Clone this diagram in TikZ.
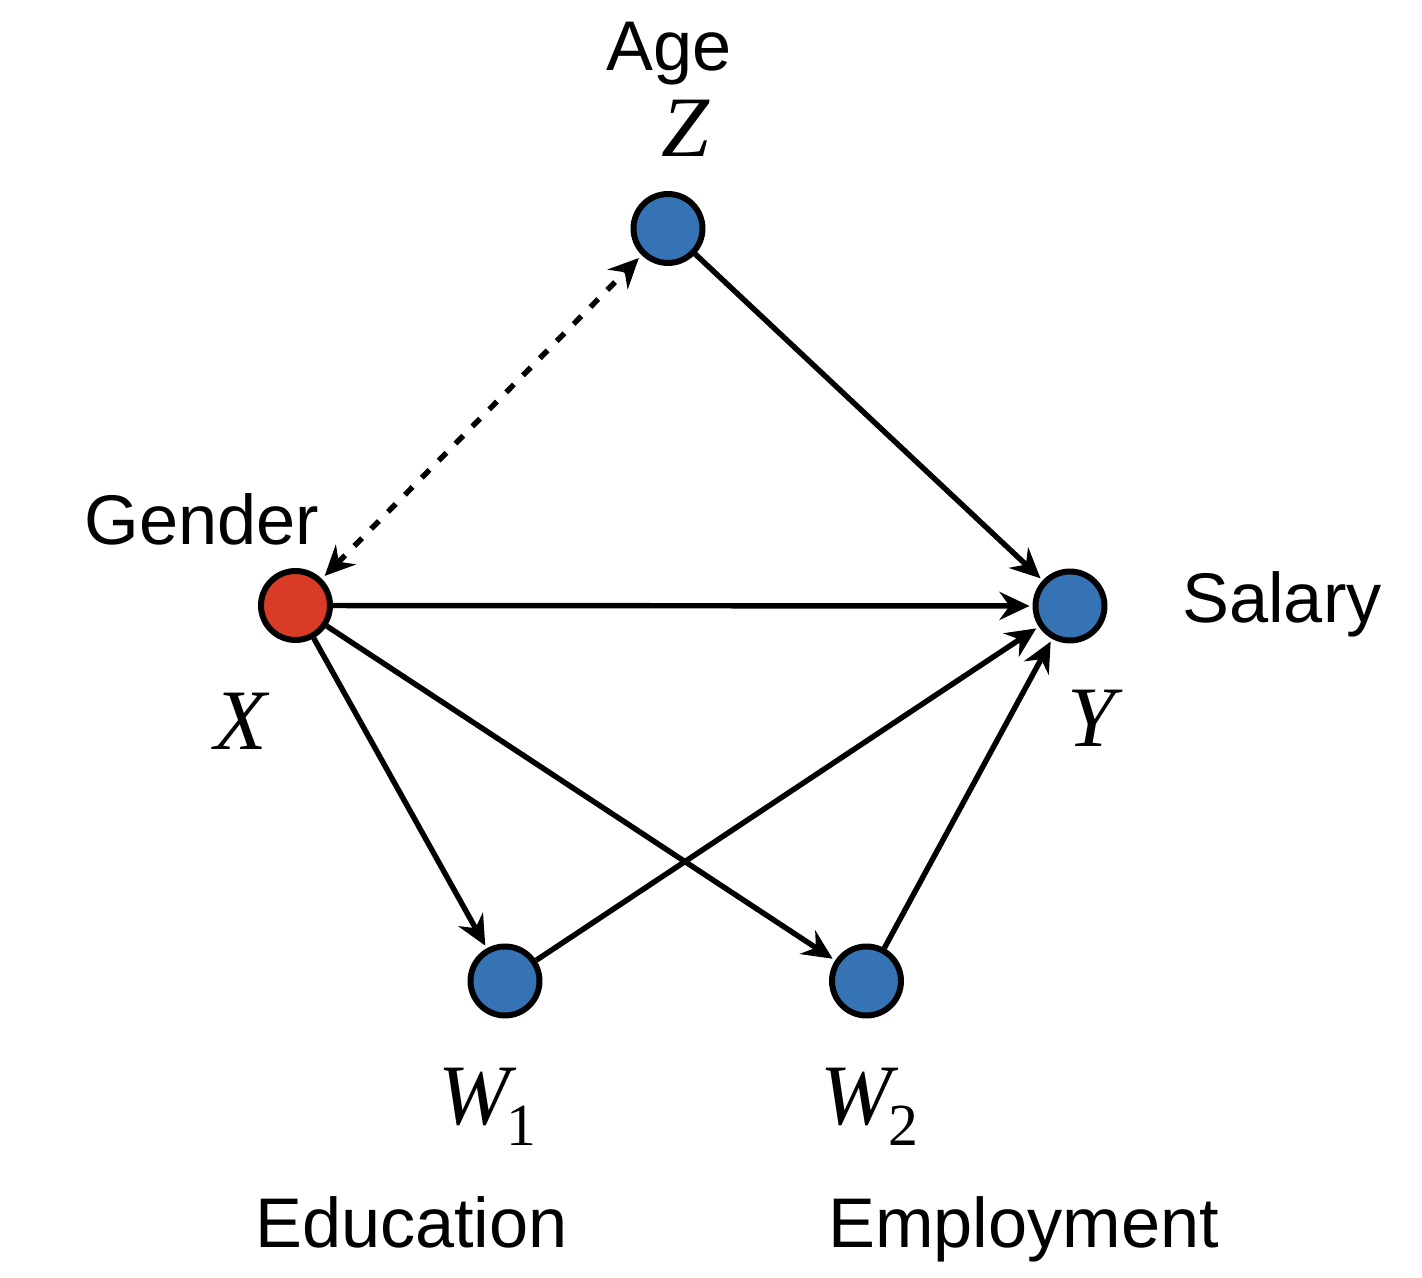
\documentclass[tikz,border=0pt]{standalone}
\usepackage{fontspec}
\setmainfont{Liberation Serif}
\newfontfamily\labelsans{Liberation Sans}
\usetikzlibrary{arrows.meta}
\definecolor{varblue}{RGB}{53,115,180}
\definecolor{varred}{RGB}{217,59,39}
\newcommand{\subidx}[1]{\kern-1pt\raisebox{-5.7pt}{\upshape\fontsize{17}{17}\selectfont #1}}

\begin{document}
\begin{tikzpicture}[line width=1.55pt,>={Stealth[length=3mm,width=2.8mm,inset=1mm]},
  var/.style={circle,draw,line width=1.7pt,fill=varblue,minimum size=6.9mm,inner sep=0pt},
  word/.style={font=\labelsans\fontsize{20}{24}\selectfont,anchor=base,inner sep=0pt},
  sym/.style={font=\itshape\fontsize{24.5}{28}\selectfont,anchor=base,inner sep=0pt}]
  \useasboundingbox (0,0) rectangle (14.22,12.78);
  % variables
  \node[var] (Z) at (6.68,10.495){};
  \node[var,fill=varred] (X) at (2.955,6.725){};
  \node[var] (Y) at (10.70,6.72){};
  \node[var] (W1) at (5.05,2.97){};
  \node[var] (W2) at (8.665,2.97){};
  % symbols and names
  \node[word] (age) at (6.69,12.07){Age};
  \node[sym] (zsym) at (6.85,11.21){Z};
  \node[word] (gender) at (2.02,7.33){Gender};
  \node[sym] (xsym) at (2.41,5.28){X};
  \node[word] (salary) at (12.82,6.55){Salary};
  \node[sym] (ysym) at (10.91,5.31){Y};
  \node[sym] (w1sym) at (4.875,1.53){W\subidx{1}};
  \node[sym] (w2sym) at (8.695,1.53){W\subidx{2}};
  \node[word] (educ) at (4.115,0.30){Education};
  \node[word] (empl) at (10.235,0.30){Employment};
  % edges
  \foreach \a/\b in {Z/Y,X/Y,X/W1,X/W2,W1/Y,W2/Y} \draw[->,shorten >=0.3mm] (\a)--(\b);
  \draw[<->,dash pattern=on 1.1mm off 1.3mm,shorten <=0.4mm,shorten >=0.4mm] (X)--(Z);
\end{tikzpicture}
\end{document}
